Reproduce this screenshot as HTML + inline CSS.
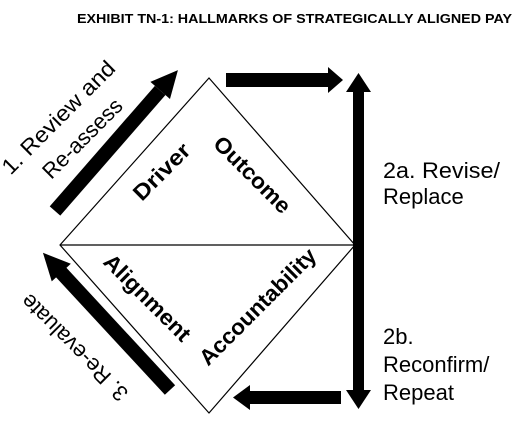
<!DOCTYPE html>
<html><head><meta charset="utf-8"><style>
html,body{margin:0;padding:0;background:#fff;}
svg{display:block;font-family:"Liberation Sans",Arial,sans-serif;}
</style></head><body>
<svg width="517" height="426" viewBox="0 0 517 426" xmlns="http://www.w3.org/2000/svg">
<text x="77" y="23" font-size="12.5" font-weight="bold" textLength="435" lengthAdjust="spacingAndGlyphs">EXHIBIT TN-1: HALLMARKS OF STRATEGICALLY ALIGNED PAY</text>
<polygon points="209,78 355,245 209,413 60,245" fill="none" stroke="#000" stroke-width="1.2"/>
<line x1="60" y1="245" x2="355" y2="245" stroke="#000" stroke-width="1.2"/>
<g transform="translate(55,211) rotate(-48.9)">
<rect x="0" y="-7" width="160" height="14" fill="#000"/>
<polygon points="160,-13 187,0 160,13" fill="#000"/>
</g>
<rect x="226" y="73" width="104" height="14" fill="#000"/>
<polygon points="328,67 343,80 328,93" fill="#000"/>
<rect x="353" y="88" width="11" height="306" fill="#000"/>
<polygon points="346,92 358.5,73 371,92" fill="#000"/>
<polygon points="346,390 358.5,409 371,390" fill="#000"/>
<rect x="248" y="391" width="93" height="13" fill="#000"/>
<polygon points="250,385 233,397.5 250,410" fill="#000"/>
<g transform="translate(170,390) rotate(-132.8)">
<rect x="0" y="-7" width="165" height="14" fill="#000"/>
<polygon points="160,-13 187,0 160,13" fill="#000"/>
</g>
<g font-size="22" fill="#000">
<text transform="translate(58,117) rotate(-45)" text-anchor="middle" y="8" textLength="150" lengthAdjust="spacingAndGlyphs">1. Review and</text>
<text transform="translate(82,138) rotate(-45)" text-anchor="middle" y="8" textLength="103" lengthAdjust="spacingAndGlyphs">Re-assess</text>
<text transform="translate(74,348) rotate(-135)" text-anchor="middle" y="8" textLength="141" lengthAdjust="spacingAndGlyphs">3. Re-evaluate</text>
<text x="383" y="178" textLength="117" lengthAdjust="spacingAndGlyphs">2a. Revise/</text>
<text x="383" y="204">Replace</text>
<text x="383" y="344">2b.</text>
<text x="383" y="372">Reconfirm/</text>
<text x="383" y="400">Repeat</text>
</g>
<g font-size="22" font-weight="bold" text-anchor="middle">
<text transform="translate(162,172) rotate(-45)" y="7" textLength="71" lengthAdjust="spacingAndGlyphs">Driver</text>
<text transform="translate(252,175) rotate(45)" y="7" textLength="99" lengthAdjust="spacingAndGlyphs">Outcome</text>
<text transform="translate(147,298) rotate(45)" y="7" textLength="113" lengthAdjust="spacingAndGlyphs">Alignment</text>
<text transform="translate(258,307) rotate(-45)" y="7" textLength="155" lengthAdjust="spacingAndGlyphs">Accountability</text>
</g>
</svg>
</body></html>
